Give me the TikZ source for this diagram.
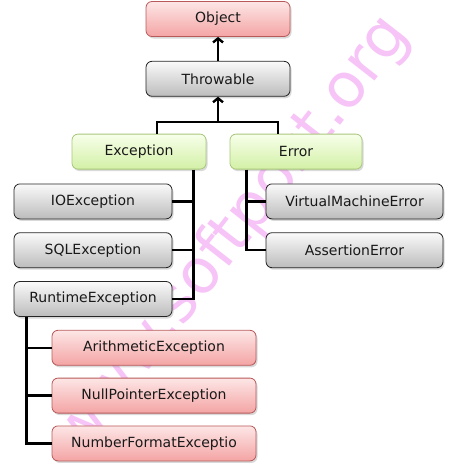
\documentclass[tikz,border=0pt]{standalone}
\usepackage{fontspec}
\setmainfont{DejaVu Sans}
\usepackage{xcolor}
\usepackage{tikz}
\usetikzlibrary{arrows.meta, positioning, calc, shadows}

\definecolor{redtop}{HTML}{FDE6E6}
\definecolor{redbot}{HTML}{F4A4A4}
\definecolor{redline}{HTML}{B85A5A}
\definecolor{graytop}{HTML}{FAFAFA}
\definecolor{graybot}{HTML}{BCBCBC}
\definecolor{grayline}{HTML}{262626}
\definecolor{greentop}{HTML}{F7FFEA}
\definecolor{greenbot}{HTML}{D3F0A6}
\definecolor{greenline}{HTML}{A9C77C}
\definecolor{mark}{HTML}{F7C4F7}

\tikzset{
  box/.style={rounded corners=6pt, minimum height=35pt, inner sep=0pt,
    line width=0.8pt, text=black!90, font=\fontsize{14}{16}\selectfont,
    drop shadow={shadow xshift=1.5pt, shadow yshift=-2pt, opacity=0.3}},
  redbox/.style={box, draw=redline, top color=redtop, bottom color=redbot},
  graybox/.style={box, draw=grayline, top color=graytop, bottom color=graybot},
  greenbox/.style={box, draw=greenline, top color=greentop, bottom color=greenbot},
  link/.style={line width=2.4pt},
}

\begin{document}
\begin{tikzpicture}[>={Straight Barb[length=4pt,width=10pt]}]
            \useasboundingbox (0,0) rectangle (451pt,-466pt);
            
            \node[rotate=52, text=mark, font=\fontsize{62}{72}\selectfont] (watermark) at (232pt,-236pt) {www.softpost.org};
            
            \node[redbox, minimum width=144pt] (object) at (218pt,-19pt) {Object};
            \node[graybox, minimum width=144pt, below=24pt of object] (throwable) {Throwable};
            \node[greenbox, minimum width=134pt, below=37pt of throwable, xshift=-79pt] (exception) {Exception};
            \node[greenbox, minimum width=132pt, below=37pt of throwable, xshift=78pt] (error) {Error};
            
            \node[graybox, minimum width=158pt, below=14pt of exception, xshift=-46pt] (ioex) {IOException};
            \node[graybox, minimum width=158pt, below=13pt of ioex] (sqlex) {SQLException};
            \node[graybox, minimum width=158pt, below=13pt of sqlex] (rtex) {RuntimeException};
            
            \node[graybox, minimum width=177pt, below=14pt of error, xshift=58.5pt] (vmerr) {VirtualMachineError};
            \node[graybox, minimum width=177pt, below=13pt of vmerr] (asserr) {AssertionError};
            
            \node[redbox, minimum width=204pt, below=13pt of rtex, xshift=61pt] (arith) {ArithmeticException};
            \node[redbox, minimum width=204pt, below=12pt of arith] (npe) {NullPointerException};
            \node[redbox, minimum width=204pt, below=12pt of npe] (nfe) {NumberFormatExceptio};
            
            \coordinate (split) at ($(throwable.south)+(0,-25pt)$);
            \coordinate (extrunk) at ([xshift=-13pt]exception.south east);
            \coordinate (errtrunk) at ([xshift=17pt]error.south west);
            \coordinate (rttrunk) at ([xshift=13pt]rtex.south west);
            
            \draw[link, ->] (throwable.north) -- (object.south);
            \draw[link, ->] (split) -- (throwable.south);
            \draw[link] ([xshift=18pt]exception.north) |- (split) -| ([xshift=-18pt]error.north);
            
            \draw[link] (extrunk) |- (rtex.east);
            \foreach \n in {ioex, sqlex}
                \draw[link] (\n.east) -- (\n.east -| extrunk);
            
            \draw[link] (errtrunk) |- (asserr.west);
            \draw[link] (vmerr.west) -- (vmerr.west -| errtrunk);
            
            \draw[link] (rttrunk) |- (nfe.west);
            \foreach \n in {arith, npe}
                \draw[link] (\n.west) -- (\n.west -| rttrunk);
        \end{tikzpicture}
\end{document}
